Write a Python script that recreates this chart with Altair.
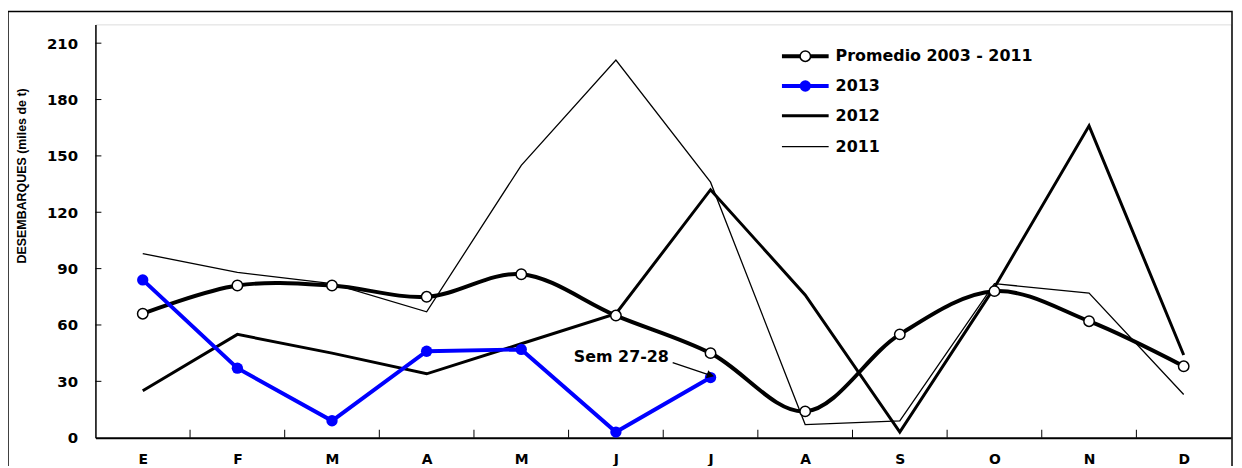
import altair as alt
import pandas as pd

months = ["E", "F", "M", "A", "M", "J", "J", "A", "S", "O", "N", "D"]
promedio = [66, 81, 81, 75, 87, 65, 45, 14, 55, 78, 62, 38]
s2013 = [84, 37, 9, 46, 47, 3, 32]
s2012 = [25, 55, 45, 34, 50, 66, 132, 76, 3, 80, 166, 44]
s2011 = [98, 88, 82, 67, 145, 201, 136, 7, 9, 82, 77, 23]
y_ticks = [0, 30, 60, 90, 120, 150, 180, 210]

ann_text = "Sem 27-28"
ann_x, ann_y = 5.56, 43
arrow_x, arrow_y = [5.60, 6.0], [40, 33.2]

W, H = 1143, 416
FONT = "DejaVu Sans"

idx = list(range(12))
df_prom = pd.DataFrame({"i": idx, "v": promedio})
df_13 = pd.DataFrame({"i": idx[:len(s2013)], "v": s2013})
df_12 = pd.DataFrame({"i": idx, "v": s2012})
df_11 = pd.DataFrame({"i": idx, "v": s2011})

label_expr = "[" + ",".join("'%s'" % m for m in months) + "][datum.value]"

xs = alt.Scale(domain=[-0.5, 11.5], nice=False, zero=False)
ys = alt.Scale(domain=[0, 220], nice=False)

X = alt.X("i:Q", scale=xs, axis=alt.Axis(
    values=idx, labelExpr=label_expr, ticks=False, grid=False, title=None,
    domainColor="black", domainWidth=2, labelFont=FONT, labelFontSize=14,
    labelFontWeight="bold", labelColor="black", labelPadding=15))
Y = alt.Y("v:Q", scale=ys, axis=alt.Axis(
    values=y_ticks, ticks=False, grid=False, domainColor="black", domainWidth=1.5,
    labelFont=FONT, labelFontSize=15, labelFontWeight="bold", labelColor="black",
    labelPadding=18, title="DESEMBARQUES (miles de t)", titleFont="Liberation Sans",
    titleFontSize=12.5, titleFontWeight="bold", titleColor="black", titleAngle=270,
    titleX=-74, titleY=152, titleAlign="center", titleBaseline="middle"))

l11 = alt.Chart(df_11).mark_line(color="black", strokeWidth=1.3).encode(x=X, y=Y)
l12 = alt.Chart(df_12).mark_line(color="black", strokeWidth=3).encode(x=X, y=Y)
lprom = alt.Chart(df_prom).mark_line(color="black", strokeWidth=4,
                                     interpolate="catmull-rom").encode(x=X, y=Y)
pprom = alt.Chart(df_prom).mark_point(shape="circle", filled=True, fill="white",
                                      stroke="black", strokeWidth=1.5, size=110,
                                      opacity=1).encode(x=X, y=Y)
l13 = alt.Chart(df_13).mark_line(color="#0000FF", strokeWidth=4).encode(x=X, y=Y)
p13 = alt.Chart(df_13).mark_point(shape="circle", filled=True, color="#0000FF",
                                  size=130, opacity=1).encode(x=X, y=Y)

# inward ticks
ytick_df = pd.DataFrame({"v": y_ticks[1:]})
yticks = alt.Chart(ytick_df).mark_rule(color="black", strokeWidth=1).encode(
    x=alt.value(0), x2=alt.value(6), y=alt.Y("v:Q", scale=ys))
xtick_df = pd.DataFrame({"b": [k + 0.5 for k in range(11)]})
xticks = alt.Chart(xtick_df).mark_rule(color="black", strokeWidth=1).encode(
    x=alt.X("b:Q", scale=xs), y=alt.value(H), y2=alt.value(H - 8))

# annotation
ann_df = pd.DataFrame({"i": [ann_x], "v": [ann_y], "t": [ann_text]})
ann = alt.Chart(ann_df).mark_text(align="right", baseline="middle", font=FONT,
                                  fontSize=16, fontWeight="bold", color="black").encode(
    x=alt.X("i:Q", scale=xs), y=alt.Y("v:Q", scale=ys), text="t:N")
arr_df = pd.DataFrame({"x1": [arrow_x[0]], "y1": [arrow_y[0]],
                       "x2": [arrow_x[1]], "y2": [arrow_y[1]]})
arrow = alt.Chart(arr_df).mark_rule(color="black", strokeWidth=1.3).encode(
    x=alt.X("x1:Q", scale=xs), y=alt.Y("y1:Q", scale=ys), x2="x2:Q", y2="y2:Q")
head = alt.Chart(arr_df).mark_point(shape="triangle-right", filled=True, color="black",
                                    size=70, angle=16, opacity=1).encode(
    x=alt.X("x2:Q", scale=xs), y=alt.Y("y2:Q", scale=ys))

# custom legend
one = pd.DataFrame({"a": [0]})
lx1, lx2, tx = 691, 738, 745
leg_items = [
    ("Promedio 2003 - 2011", 32, "black", 4, "open"),
    ("2013", 62, "#0000FF", 4, "filled"),
    ("2012", 92, "black", 3, None),
    ("2011", 123, "black", 1.3, None),
]
legend_layers = []
for label, ly, col, sw, marker in leg_items:
    legend_layers.append(alt.Chart(one).mark_rule(color=col, strokeWidth=sw).encode(
        x=alt.value(lx1), x2=alt.value(lx2), y=alt.value(ly)))
    if marker == "open":
        legend_layers.append(alt.Chart(one).mark_point(
            shape="circle", filled=True, fill="white", stroke="black", strokeWidth=1.5,
            size=110, opacity=1).encode(x=alt.value((lx1 + lx2) / 2), y=alt.value(ly)))
    elif marker == "filled":
        legend_layers.append(alt.Chart(one).mark_point(
            shape="circle", filled=True, color=col, size=130, opacity=1).encode(
            x=alt.value((lx1 + lx2) / 2), y=alt.value(ly)))
    legend_layers.append(alt.Chart(one).mark_text(
        align="left", baseline="middle", font=FONT, fontSize=16, fontWeight="bold",
        color="black", text=label).encode(x=alt.value(tx), y=alt.value(ly)))

border = alt.Chart(one).mark_rect(fill=None, fillOpacity=0, stroke="black",
                                  strokeWidth=1.5).encode(
    x=alt.value(-88), x2=alt.value(1144), y=alt.value(-13), y2=alt.value(470))

chart = alt.layer(
    border, l11, l12, lprom, l13, pprom, p13, yticks, xticks, ann, arrow, head,
    *legend_layers
).properties(
    width=W, height=H,
    autosize=alt.AutoSizeParams(type="none"),
    padding={"left": 88, "top": 15, "right": 3, "bottom": 27},
).configure_view(stroke="black", strokeWidth=1).configure(background="white")

chart.save("out.html", embed_options={"renderer": "svg", "actions": False})
